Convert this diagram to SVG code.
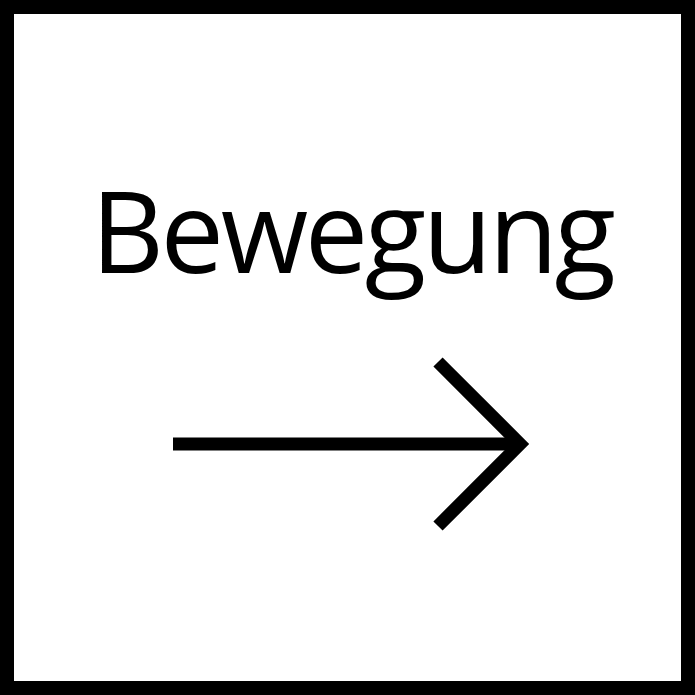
<svg xmlns="http://www.w3.org/2000/svg" width="695" height="695" viewBox="0 0 695 695">
<style>
.frame{fill:#fff;stroke:#000;stroke-width:14}
.lbl{font-family:"Open Sans","Liberation Sans",sans-serif;font-size:113px;fill:#000;letter-spacing:-3.4px}
.arr{fill:none;stroke:#000;stroke-width:13;stroke-linecap:butt;stroke-linejoin:miter}
</style>
<rect width="695" height="695" fill="#fff"/>
<g id="frame"><rect class="frame" x="7" y="7" width="681" height="681"/></g>
<g id="label"><text class="lbl" x="91" y="273">Bewegung</text></g>
<g id="connectors">
<path class="arr" d="M173 444H519"/>
<path class="arr" d="M438 362L520 444L438 526"/>
</g>
</svg>
